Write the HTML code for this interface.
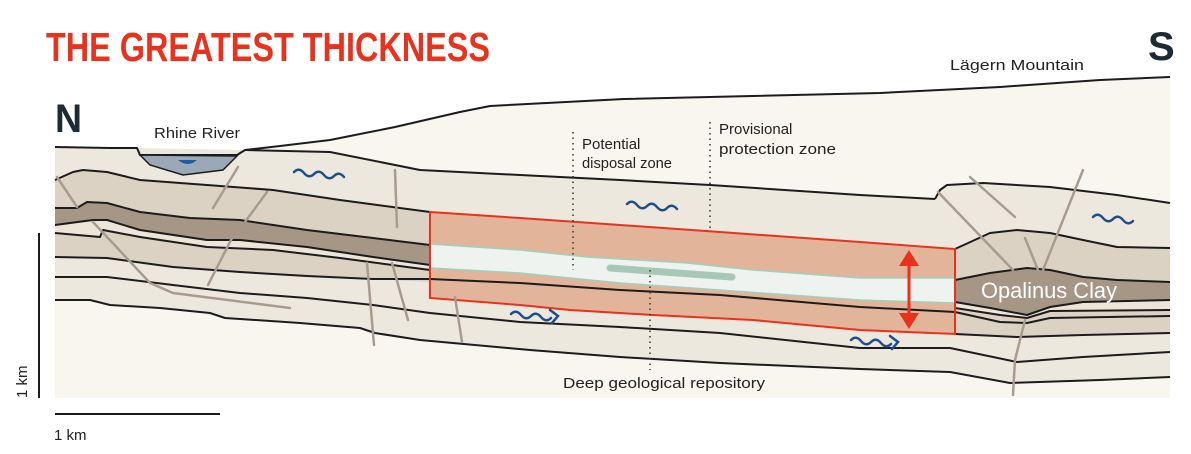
<!DOCTYPE html>
<html><head><meta charset="utf-8"><style>
html,body{margin:0;padding:0;background:#fff;}
svg{display:block;}
text{font-family:"Liberation Sans",sans-serif;}
</style></head><body>
<svg width="1191" height="454" viewBox="0 0 1191 454" xmlns="http://www.w3.org/2000/svg">
<rect width="1191" height="454" fill="#fff"/>
<polygon fill="#f8f6ef" points="55,147 110,148 137,148 140,155 237,155 245,150 280,146 330,140 395,127 460,112 490,106 624,99 880,93 1000,87 1100,80 1170,77 1170,398 55,398"/>
<polygon fill="#ede8de" points="55,147 110,148 137,148 245,150 330,152 420,170 520,175 620,180 710,185 860,195 935,199 940,190 947,185 983,183 1050,187 1117,195 1170,203 1170,398 55,398"/>
<polygon fill="#dcd2c4" points="55,180 73,172 83,170 107,172 140,180 207,185 273,190 340,200 430,212 520,218 620,225 720,232 860,242 955,249 990,233 1017,230 1050,233 1083,240 1117,247 1170,248 1170,398 55,398"/>
<polygon fill="#a69686" points="55,208 77,208 87,202 107,203 140,212 190,218 240,220 307,230 373,238 430,245 955,280 990,273 1027,268 1050,270 1083,277 1117,280 1170,282 1170,398 55,398"/>
<polygon fill="#ece5d8" points="55,225 93,220 107,220 140,230 207,240 240,240 307,247 373,257 430,265 955,302 990,308 1027,315 1050,307 1083,302 1170,300 1170,398 55,398"/>
<polygon fill="#dcd2c4" points="55,233 100,237 103,230 140,237 207,247 273,250 340,258 407,267 430,270 955,308 1000,315 1027,318 1050,311 1170,310 1170,398 55,398"/>
<polygon fill="#ede8de" points="55,257 107,258 173,267 240,272 307,276 373,279 430,282 520,305 570,310 653,315 753,320 860,330 955,334 1017,337 1083,335 1170,333 1170,398 55,398"/>
<polygon fill="#f8f6ef" points="55,300 90,300 110,305 160,308 210,313 225,318 300,323 360,328 375,333 420,340 530,350 620,357 720,363 860,369 950,372 1010,383 1100,380 1170,377 1170,398 55,398"/>
<polygon fill="#e2b49a" points="430,212 520,218 620,225 720,232 860,242 955,249 955,334 860,330 753,320 653,315 570,310 520,305 430,298"/>
<polygon fill="#eef3ef" stroke="#9fd0c0" stroke-width="1.5" points="430,244 520,250 587,257 687,263 753,270 860,278 955,278 955,303 860,300 720,290 620,283 520,273 430,268"/>
<line x1="610" y1="268" x2="732" y2="277" stroke="#a7c8b6" stroke-width="7" stroke-linecap="round"/>
<g fill="none" stroke="#1c1c1c" stroke-width="2" stroke-linejoin="round">
<polyline points="55,147 110,148 137,148 140,155 237,155 245,150 280,146 330,140 395,127 460,112 490,106 624,99 880,93 1000,87 1100,80 1170,77"/>
<polyline points="245,150 330,152 420,170 520,175 620,180 710,185 860,195 935,199"/>
<polyline points="935,199 940,190 947,185 983,183 1050,187 1117,195 1170,203"/>
<polyline points="55,180 73,172 83,170 107,172 140,180 207,185 273,190 340,200 430,212"/>
<polyline points="955,249 990,233 1017,230 1050,233 1083,240 1117,247 1170,248"/>
<polyline points="55,208 77,208 87,202 107,203 140,212 190,218 240,220 307,230 373,238 430,245"/>
<polyline points="955,280 990,273 1027,268 1050,270 1083,277 1117,280 1170,282"/>
<polyline points="55,225 93,220 107,220 140,230 207,240 240,240 307,247 373,257 430,265"/>
<polyline points="955,302 990,308 1027,315 1050,307 1083,302 1170,300"/>
<polyline points="55,233 100,237 103,230 140,237 207,247 273,250 340,258 407,267 430,270"/>
<polyline points="955,308 1000,315 1027,318 1050,311 1170,310"/>
<polyline points="55,257 107,258 173,267 240,272 307,276 373,279 430,279 520,283 620,290 720,295 860,307 955,312 1000,322 1027,323 1050,318 1170,316"/>
<polyline points="955,334 1017,337 1083,335 1170,333"/>
<polyline points="55,277 107,277 173,285 240,293 307,298 373,305 430,313 520,322 620,327 720,333 860,348 950,348 1017,362 1083,357 1170,352"/>
<polyline points="55,300 90,300 110,305 160,308 210,313 225,318 300,323 360,328 375,333 420,340 530,350 620,357 720,363 860,369 950,372 1010,383 1100,380 1170,377"/>
</g>
<polygon fill="none" stroke="#e8321e" stroke-width="2" points="430,212 520,218 620,225 720,232 860,242 955,249 955,334 860,330 753,320 653,315 570,310 520,305 430,298"/>
<polygon fill="#9aa8b8" stroke="#1c1c1c" stroke-width="1.5" points="140,155 150,165 183,175 223,170 237,156"/>
<path d="M178,160 Q188,168 197,160 Z" fill="#1d5ea0"/>
<g fill="none" stroke="#a89c90" stroke-width="2.5" stroke-linecap="round">
<line x1="57" y1="177" x2="77" y2="207"/>
<polyline points="93,222 122,253 150,283 173,293 290,308"/>
<line x1="238" y1="167" x2="213" y2="208"/>
<line x1="267" y1="192" x2="245" y2="222"/>
<line x1="232" y1="238" x2="208" y2="285"/>
<line x1="395" y1="170" x2="397" y2="227"/>
<line x1="367" y1="263" x2="374" y2="345"/>
<line x1="392" y1="263" x2="408" y2="320"/>
<line x1="455" y1="297" x2="462" y2="342"/>
<line x1="938" y1="192" x2="1013" y2="270"/>
<line x1="970" y1="177" x2="1015" y2="217"/>
<line x1="1083" y1="170" x2="1043" y2="270"/>
<line x1="1025" y1="238" x2="1038" y2="270"/>
<polyline points="1025,320 1015,360 1013,395"/>
</g>
<g fill="none" stroke="#1f4e8c" stroke-width="2.5" stroke-linecap="round">
<path d="M294,172 q5,-5 10,1 t10,1 t10,1 t10,1 t10,1"/>
<path d="M627,204 q5,-5 10,1 t10,1 t10,1 t10,1 t10,1"/>
<path d="M1093,217 q5,-5 10,1 t10,1 t10,1 t10,1"/>
<path d="M511,314 q5,-5 10,1 t10,1 t10,1 t10,1 M550,310 l8,6 l-6,7"/>
<path d="M851,340 q5,-5 10,1 t10,1 t10,1 t10,1 M890,336 l8,6 l-6,7"/>
</g>
<g stroke="#333" stroke-width="1.5" stroke-dasharray="1.5,4" fill="none">
<line x1="573" y1="132" x2="573" y2="270"/>
<line x1="710" y1="122" x2="710" y2="232"/>
<line x1="650" y1="270" x2="650" y2="370"/>
</g>
<line x1="909" y1="262" x2="909" y2="316" stroke="#e8321e" stroke-width="3"/>
<polygon fill="#e8321e" points="909,250 899,266 919,266"/>
<polygon fill="#e8321e" points="909,329 899,313 919,313"/>
<line x1="39" y1="233" x2="39" y2="398" stroke="#1c1c1c" stroke-width="2"/>
<line x1="55" y1="414" x2="220" y2="414" stroke="#1c1c1c" stroke-width="2"/>
<text x="46" y="61" font-size="41" font-weight="bold" fill="#e8321e" textLength="444" lengthAdjust="spacingAndGlyphs">THE GREATEST THICKNESS</text>
<text x="55" y="132" font-size="40" font-weight="bold" fill="#1e2a33" textLength="27" lengthAdjust="spacingAndGlyphs">N</text>
<text x="1148" y="60" font-size="40" font-weight="bold" fill="#1e2a33">S</text>
<text x="154" y="138" font-size="15" fill="#222" textLength="86" lengthAdjust="spacingAndGlyphs">Rhine River</text>
<text x="950" y="70" font-size="15" fill="#222" textLength="134" lengthAdjust="spacingAndGlyphs">Lägern Mountain</text>
<text x="582" y="149" font-size="15" fill="#222">Potential</text>
<text x="582" y="168" font-size="15" fill="#222" textLength="90" lengthAdjust="spacingAndGlyphs">disposal zone</text>
<text x="719" y="134" font-size="15" fill="#222">Provisional</text>
<text x="719" y="154" font-size="15" fill="#222" textLength="117" lengthAdjust="spacingAndGlyphs">protection zone</text>
<text x="563" y="388" font-size="15" fill="#222" textLength="202" lengthAdjust="spacingAndGlyphs">Deep geological repository</text>
<text x="981" y="298" font-size="22" fill="#fff" textLength="136" lengthAdjust="spacingAndGlyphs">Opalinus Clay</text>
<text x="54" y="440" font-size="15" fill="#222">1 km</text>
<text transform="translate(27,398) rotate(-90)" font-size="15" fill="#222">1 km</text>
</svg>
</body></html>
